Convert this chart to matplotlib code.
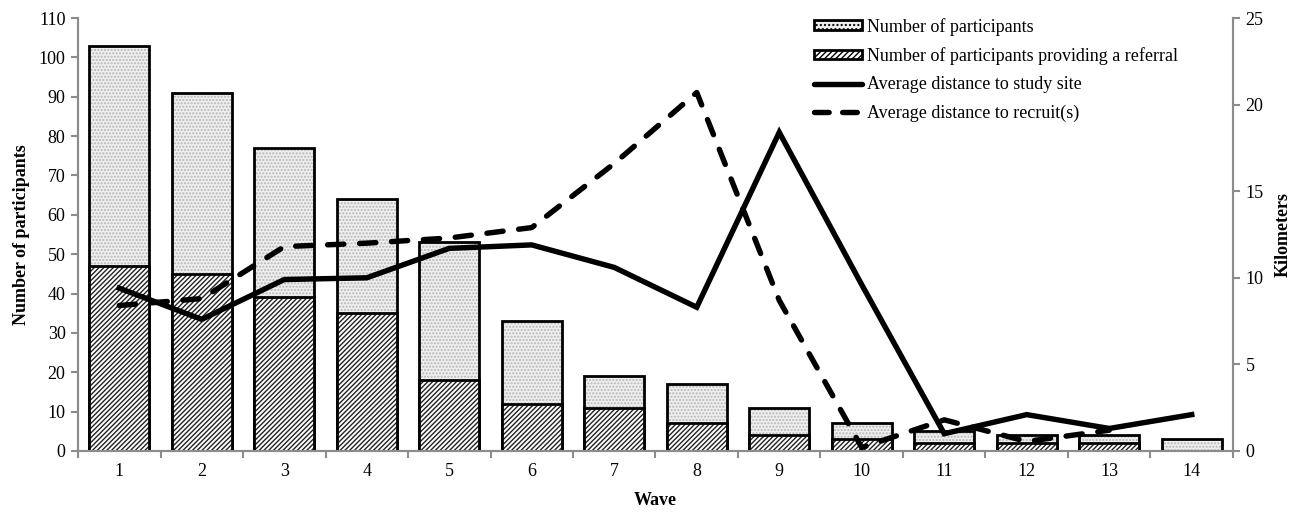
import numpy as np
import matplotlib
matplotlib.use("Agg")
import matplotlib.pyplot as plt
from matplotlib.patches import Patch
from matplotlib.lines import Line2D

plt.rcParams['font.family'] = ['Liberation Serif', 'DejaVu Serif']

waves = [1, 2, 3, 4, 5, 6, 7, 8, 9, 10, 11, 12, 13, 14]
participants = [103, 91, 77, 64, 53, 33, 19, 17, 11, 7, 5, 4, 4, 3]
referrals = [47, 45, 39, 35, 18, 12, 11, 7, 4, 3, 2, 2, 2, 0]
dist_site = [9.4, 7.6, 9.9, 10.0, 11.7, 11.9, 10.6, 8.3, 18.4, 9.6, 1.0, 2.1, 1.3, 2.1]
dist_recruit = [8.4, 8.8, 11.8, 12.0, 12.3, 12.9, 16.6, 20.7, 8.7, 0.2, 1.8, 0.55, 1.2, np.nan]

yticks_left = list(range(0, 111, 10))
yticks_right = [0, 5, 10, 15, 20, 25]

FS = 13

fig = plt.figure(figsize=(13.11, 5.15), dpi=100)
ax = fig.add_axes([0.0595, 0.1243, 0.881, 0.8407])
ax2 = ax.twinx()

x = np.arange(1, len(waves) + 1)
w = 0.73
axis_gray = '#8c8c8c'

# participants bars (stipple) + outline
ax.bar(x, participants, w, facecolor='#efefef', edgecolor='#b5b5b5', hatch='.....', linewidth=0, zorder=2)
ax.bar(x, participants, w, fill=False, edgecolor='black', linewidth=2.0, zorder=3)
# referral bars (hatched) + outline
ax.bar(x, referrals, w, facecolor='white', edgecolor='#222222', hatch='///////', linewidth=0, zorder=4)
ax.bar(x, referrals, w, fill=False, edgecolor='black', linewidth=2.0, zorder=5)

ax.set_xlim(0.5, 14.5)
ax.set_ylim(0, 110)
ax.set_yticks(yticks_left)
ax.set_xticks(x)
ax.set_xticklabels([str(v) for v in waves])
ax.set_xticks(np.arange(0.5, 14.6, 1), minor=True)
ax.tick_params(axis='x', which='major', length=0, pad=9, labelsize=FS)
ax.tick_params(axis='x', which='minor', length=5, width=1.5, color=axis_gray, direction='out')
ax.tick_params(axis='y', length=5, width=1.5, color=axis_gray, direction='out', labelsize=FS, pad=4)

ax2.plot(x, dist_site, color='black', linewidth=3.9, solid_joinstyle='miter', zorder=6)
ax2.plot(x, dist_recruit, color='black', linewidth=3.9, linestyle=(0, (3.0, 2.9)),
         dash_capstyle='round', zorder=6)
ax2.set_ylim(0, 25)
ax2.set_yticks(yticks_right)
ax2.tick_params(axis='y', length=5, width=1.5, color=axis_gray, direction='out', labelsize=FS, pad=4)

for a in (ax, ax2):
    a.spines['top'].set_visible(False)
    for s in ('left', 'right', 'bottom'):
        a.spines[s].set_color(axis_gray)
        a.spines[s].set_linewidth(1.5)

ax.set_xlabel('Wave', fontweight='bold', fontsize=FS, labelpad=8)
ax.set_ylabel('Number of participants', fontweight='bold', fontsize=FS, labelpad=6)
ax2.set_ylabel('Kilometers', fontweight='bold', fontsize=FS, labelpad=8)

handles = [
    Patch(facecolor='#efefef', edgecolor='black', hatch='....', linewidth=2.0),
    Patch(facecolor='white', edgecolor='black', hatch='//////', linewidth=2.0),
    Line2D([0], [0], color='black', linewidth=3.9, solid_capstyle='round'),
    Line2D([0], [0], color='black', linewidth=3.9, linestyle=(0, (2.7, 2.5)), dash_capstyle='round'),
]
labels = ['Number of participants', 'Number of participants providing a referral',
          'Average distance to study site', 'Average distance to recruit(s)']
fig.legend(handles, labels, loc='upper left', bbox_to_anchor=(0.6209, 0.9655), frameon=False,
           fontsize=FS, handlelength=2.66, handleheight=0.44, handletextpad=0.28,
           labelspacing=0.63, borderaxespad=0, borderpad=0)

fig.savefig('out.png', dpi=100)
